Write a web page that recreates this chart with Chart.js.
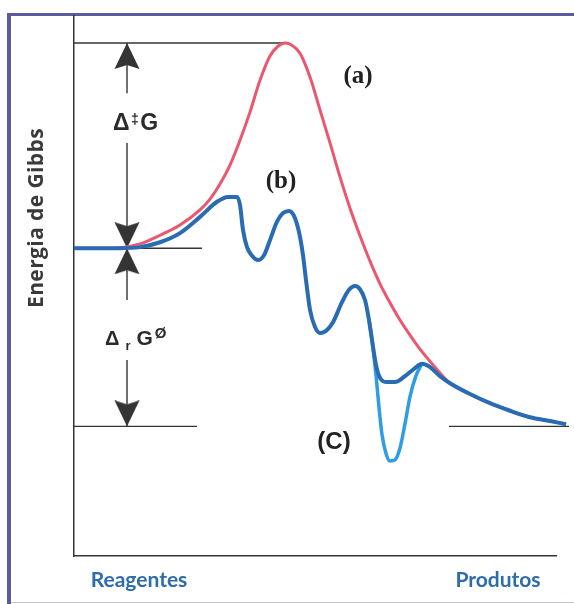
<!DOCTYPE html>
<html>
<head>
<meta charset="utf-8">
<script src="https://cdn.jsdelivr.net/npm/chart.js@4/dist/chart.umd.min.js"></script>
<style>
  html, body { margin: 0; padding: 0; background: #ffffff; }
  canvas { display: block; }
</style>
</head>
<body>
<canvas id="chart" width="574" height="604"></canvas>
<script>
// Reaction coordinate (0 = reagentes, ~96 = produtos) and Gibbs energy (arbitrary units)
const reactantLevel = 57;
const productLevel = 24;
const transitionLevel = 95;

// (a) uncatalysed path: one large barrier
const pathAx = [0, 5.2, 9.2, 13.2, 17.2, 21.2, 25.2, 27.2, 29.2, 31.2, 33.2, 35.2, 37.2, 39.2, 40.8, 42.2, 43.6, 45.2, 47.2, 49.2, 51.2, 53.2, 55.2, 57.2, 59.2, 61.2, 63.2, 65.2, 67.2, 69.2, 71.8, 75.2, 79.2, 83.2, 87.2, 91.2, 95.2, 98.4];
const pathAy = [57, 57, 57.1, 57.8, 59.4, 61.3, 64.1, 66.1, 68.9, 72.4, 77.0, 82.2, 88.1, 92.6, 94.4, 95, 94.6, 93.1, 88.7, 82.6, 76.5, 70.2, 64.4, 59.3, 54.6, 50.4, 46.9, 43.7, 40.9, 38.3, 35.4, 32.0, 30.0, 28.3, 26.9, 25.7, 25.0, 24.4];

// (b) catalysed path: several small barriers
const pathBx = [0, 5.2, 9.2, 13.2, 17.2, 21.2, 25.2, 28.6, 30.8, 32.6, 33.2, 33.8, 34.6, 35.6, 36.8, 38.0, 39.2, 40.6, 41.8, 43.0, 44.0, 45.0, 45.8, 46.4, 47.2, 48.2, 49.2, 50.4, 51.8, 53.6, 55.0, 56.2, 57.2, 58.2, 59.0, 59.6, 60.4, 61.2, 62.6, 64.2, 66.2, 68.2, 69.6, 71.2, 73.2, 75.2, 79.2, 83.2, 87.2, 91.2, 95.2, 98.4];
const pathBy = [57, 57, 57, 57.2, 58.1, 59.8, 62.8, 65.6, 66.5, 66.5, 65.0, 60.4, 57.2, 55.6, 54.8, 55.7, 58.5, 61.9, 63.5, 63.9, 63.0, 60.0, 55.7, 51.1, 45.6, 42.4, 41.3, 41.7, 43.3, 47.0, 49.3, 50.0, 49.4, 47.4, 43.7, 40.0, 35.4, 33.0, 32.2, 32.2, 33.3, 34.8, 35.6, 35.0, 33.3, 32.0, 30.0, 28.3, 26.9, 25.7, 25.0, 24.4];

// (c) deep intermediate well branching off (b)
const pathCx = [59.0, 59.6, 60.4, 61.0, 61.6, 62.4, 63.2, 64.2, 65.2, 66.2, 67.2, 68.4, 69.6];
const pathCy = [43.7, 40.0, 33.5, 27.5, 22.5, 19.0, 17.6, 17.8, 20.0, 24.5, 29.5, 33.4, 35.6];

// Guide lines: [xStart, xEnd, level]
const guideLines = [
  [0, 42.0, transitionLevel],
  [0, 25.6, reactantLevel],
  [0, 24.6, productLevel],
  [75, 99, productLevel]
];

// Double-headed arrows at x = arrowX; shaft pieces leave room for the labels
const arrowX = 10.6;
const arrowShafts = [
  [transitionLevel, 85.7],
  [76.5, reactantLevel],
  [reactantLevel, 47.4],
  [36.3, productLevel]
];
const arrowTips = [transitionLevel, reactantLevel, reactantLevel, productLevel];
const arrowTurns = [0, 180, 0, 180];

const axisLabels = ['Reagentes', 'Produtos'];
const axisLabelAt = [13, 84.8];

const toPoints = (xs, ys) => xs.map((x, i) => ({ x, y: ys[i] }));

// Arrowhead image whose tip sits at the centre, so it lands on the data point
const arrowHead = (() => {
  const c = document.createElement('canvas');
  c.width = 26; c.height = 52;
  const g = c.getContext('2d');
  g.fillStyle = '#343434';
  g.beginPath();
  g.moveTo(13, 26);
  g.lineTo(25.5, 52);
  g.lineTo(13, 48);
  g.lineTo(0.5, 52);
  g.closePath();
  g.fill();
  return c;
})();

const ink = '#343434';

const datasets = [
  {
    data: toPoints(pathBx, pathBy),
    borderColor: '#2a6cb2', borderWidth: 4, order: 1,
    cubicInterpolationMode: 'monotone', pointRadius: 0, clip: false
  },
  {
    data: toPoints(pathCx, pathCy),
    borderColor: '#2f9de4', borderWidth: 3.5, order: 2,
    cubicInterpolationMode: 'monotone', pointRadius: 0, clip: false
  },
  {
    data: toPoints(pathAx, pathAy),
    borderColor: '#ea5870', borderWidth: 3, order: 3,
    cubicInterpolationMode: 'monotone', pointRadius: 0, clip: false
  }
];

guideLines.forEach(([a, b, lv]) => datasets.push({
  data: [{ x: a, y: lv }, { x: b, y: lv }],
  borderColor: ink, borderWidth: 1.4, order: 5, pointRadius: 0, tension: 0, clip: false
}));

arrowShafts.forEach(([a, b]) => datasets.push({
  data: [{ x: arrowX, y: a }, { x: arrowX, y: b }],
  borderColor: ink, borderWidth: 1.4, order: 5, pointRadius: 0, tension: 0, clip: false
}));

datasets.push({
  data: arrowTips.map(v => ({ x: arrowX, y: v })),
  showLine: false, order: 4, clip: false,
  pointStyle: arrowHead, pointRadius: 13, pointRotation: arrowTurns,
  pointBorderWidth: 0
});

// Page frame and free text
const frame = {
  id: 'frame',
  beforeDraw(chart) {
    const ctx = chart.ctx;
    ctx.save();
    ctx.fillStyle = '#ffffff';
    ctx.fillRect(0, 0, chart.width, chart.height);
    ctx.fillStyle = '#5d5b9e';
    ctx.fillRect(7, 13, chart.width - 7, 3);
    ctx.fillRect(7, 13, 4, chart.height - 13);
    ctx.fillStyle = '#c4c2dc';
    ctx.fillRect(11, chart.height - 2, chart.width - 11, 1);
    ctx.restore();
  }
};

const labels = {
  id: 'labels',
  afterDatasetsDraw(chart) {
    const { ctx, scales: { x, y } } = chart;
    ctx.save();
    ctx.fillStyle = '#222222';
    ctx.textBaseline = 'middle';
    ctx.textAlign = 'center';

    ctx.font = 'bold 25px "Liberation Serif"';
    ctx.fillText('(a)', x.getPixelForValue(56.8), y.getPixelForValue(88.7));
    ctx.fillText('(b)', x.getPixelForValue(41.4), y.getPixelForValue(69.3));

    ctx.font = 'bold 24px "Liberation Sans"';
    ctx.fillText('(C)', x.getPixelForValue(52), y.getPixelForValue(21.1));

    // Δ‡G
    ctx.fillStyle = '#2b2b2b';
    ctx.textAlign = 'left';
    ctx.textBaseline = 'alphabetic';
    let px = x.getPixelForValue(arrowX) - 14;
    let base = y.getPixelForValue(78.8);
    ctx.font = 'bold 23px "Liberation Sans"';
    ctx.fillText('Δ', px, base);
    px += ctx.measureText('Δ').width + 1.5;
    ctx.font = 'bold 14px "Liberation Sans"';
    ctx.fillText('‡', px, base - 6);
    px += ctx.measureText('‡').width + 1.5;
    ctx.font = 'bold 23px "Liberation Sans"';
    ctx.fillText('G', px, base);

    // ΔrGø
    px = x.getPixelForValue(arrowX) - 22;
    base = y.getPixelForValue(39.1);
    ctx.font = 'bold 20px "Liberation Sans"';
    ctx.fillText('Δ', px, base);
    px += ctx.measureText('Δ').width + 6;
    ctx.font = 'bold 13px "Liberation Sans"';
    ctx.fillText('r', px, base + 5);
    px += ctx.measureText('r').width + 6;
    ctx.font = 'bold 21px "Liberation Sans"';
    ctx.fillText('G', px, base);
    px += ctx.measureText('G').width + 2;
    ctx.font = 'bold 15px "Liberation Sans"';
    ctx.fillText('Ø', px, base - 7);

    // Vertical axis title
    ctx.translate(37, y.getPixelForValue(62.6));
    ctx.rotate(-Math.PI / 2);
    ctx.textAlign = 'center';
    ctx.textBaseline = 'middle';
    ctx.fillStyle = '#3a3a3a';
    ctx.font = 'bold 21px "Open Sans"';
    ctx.letterSpacing = '0.4px';
    ctx.fillText('Energia de Gibbs', 0, 0);
    ctx.restore();
  }
};

new Chart(document.getElementById('chart'), {
  type: 'line',
  data: { datasets },
  options: {
    responsive: false,
    animation: false,
    events: [],
    layout: { padding: { left: 74, right: 18, top: 16, bottom: 12 } },
    plugins: { legend: { display: false }, tooltip: { enabled: false } },
    scales: {
      x: {
        type: 'linear', min: 0, max: 96.4,
        grid: { display: false, drawTicks: false },
        border: { display: true, color: ink, width: 1.5 },
        afterBuildTicks: (s) => { s.ticks = axisLabelAt.map(v => ({ value: v })); },
        afterFit: (s) => { s.height = 36; },
        ticks: {
          autoSkip: false, maxRotation: 0, padding: 12,
          color: '#2f6cab',
          font: { family: 'Lato', weight: 'bold', size: 21 },
          callback: (v, i) => axisLabels[i]
        }
      },
      y: {
        type: 'linear', min: 0, max: 100,
        grid: { display: false, drawTicks: false },
        border: { display: true, color: ink, width: 1.5 },
        afterFit: (s) => { s.width = 0; },
        ticks: { display: false }
      }
    }
  },
  plugins: [frame, labels]
});
</script>
</body>
</html>
